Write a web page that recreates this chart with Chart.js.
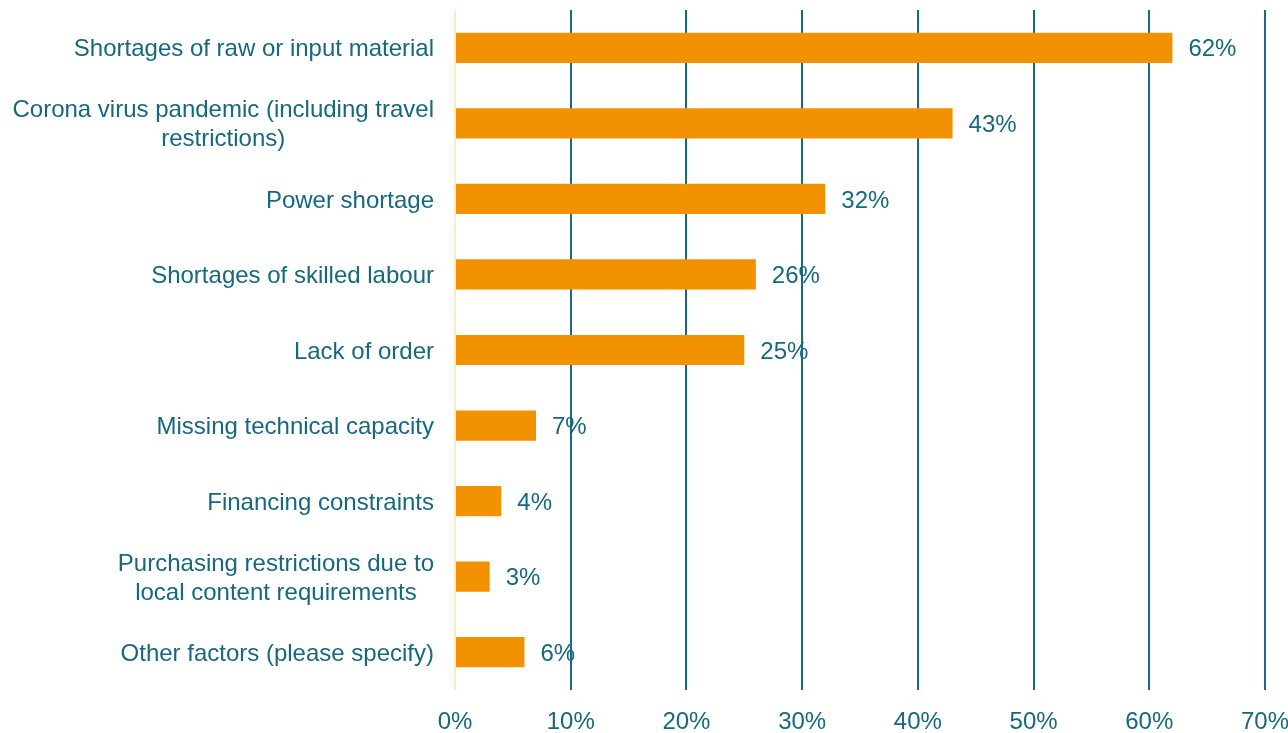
<!DOCTYPE html>
<html>
<head>
<meta charset="utf-8">
<script src="https://cdn.jsdelivr.net/npm/chart.js@4/dist/chart.umd.min.js"></script>
<style>
html,body{margin:0;padding:0;background:#fff;}
#wrap{width:1288px;height:733px;}
</style>
</head>
<body>
<div id="wrap"><canvas id="c"></canvas></div>
<script>
const categories = [
  ["Shortages of raw or input material"],
  ["Corona virus pandemic (including travel", "restrictions)"],
  ["Power shortage"],
  ["Shortages of skilled labour"],
  ["Lack of order"],
  ["Missing technical capacity"],
  ["Financing constraints"],
  ["Purchasing restrictions due to", "local content requirements"],
  ["Other factors (please specify)"]
];
const values = [62, 43, 32, 26, 25, 7, 4, 3, 6];
const xTicks = [0, 10, 20, 30, 40, 50, 60, 70];

const TEXT = '#16687F';
const GRID = '#17698A';
const ZERO = '#FDEBD0';
const BAR = '#F39200';
const FONT = '"Liberation Sans", Arial, sans-serif';
const FS = 24;

const catLabels = {
  id: 'catLabels',
  afterDraw(chart) {
    const ctx = chart.ctx;
    const y = chart.scales.y;
    const right = chart.chartArea.left - 21;
    ctx.save();
    ctx.font = FS + 'px ' + FONT;
    ctx.fillStyle = TEXT;
    ctx.textBaseline = 'middle';
    ctx.textAlign = 'center';
    categories.forEach((lines, i) => {
      const cy = y.getPixelForValue(i) + 2;
      const w = Math.max(...lines.map(l => ctx.measureText(l).width));
      const cx = right - w / 2;
      const lh = 29;
      const start = cy - (lines.length - 1) * lh / 2;
      lines.forEach((l, j) => ctx.fillText(l, cx, start + j * lh));
    });
    ctx.restore();
  }
};

const valueLabels = {
  id: 'valueLabels',
  afterDatasetsDraw(chart) {
    const ctx = chart.ctx;
    const meta = chart.getDatasetMeta(0);
    ctx.save();
    ctx.font = FS + 'px ' + FONT;
    ctx.fillStyle = TEXT;
    ctx.textBaseline = 'middle';
    ctx.textAlign = 'left';
    meta.data.forEach((bar, i) => {
      ctx.fillText(values[i] + '%', bar.x + 16, bar.y + 2);
    });
    ctx.restore();
  }
};

new Chart(document.getElementById('c'), {
  type: 'bar',
  data: {
    labels: categories.map(c => c.join(' ')),
    datasets: [{
      data: values,
      backgroundColor: BAR,
      borderWidth: 0,
      categoryPercentage: 1,
      barPercentage: 0.4
    }]
  },
  options: {
    indexAxis: 'y',
    responsive: true,
    maintainAspectRatio: false,
    animation: false,
    layout: { padding: { top: 10, right: 2, left: 0, bottom: 0 } },
    plugins: { legend: { display: false }, tooltip: { enabled: false } },
    scales: {
      x: {
        min: 0, max: 70,
        afterBuildTicks(scale) { scale.ticks = xTicks.map(v => ({ value: v })); },
        afterFit(scale) { scale.height = 43; scale.paddingRight = 23; },
        grid: {
          color: ctx => ctx.tick && ctx.tick.value === 0 ? ZERO : GRID,
          lineWidth: 2,
          drawTicks: false
        },
        border: { display: false },
        ticks: {
          color: TEXT,
          font: { family: FONT, size: FS },
          padding: 18,
          maxRotation: 0,
          callback: v => v + '%'
        }
      },
      y: {
        afterFit(scale) { scale.width = 455; },
        grid: { display: false },
        border: { display: false },
        ticks: { display: false }
      }
    }
  },
  plugins: [catLabels, valueLabels]
});
</script>
</body>
</html>
